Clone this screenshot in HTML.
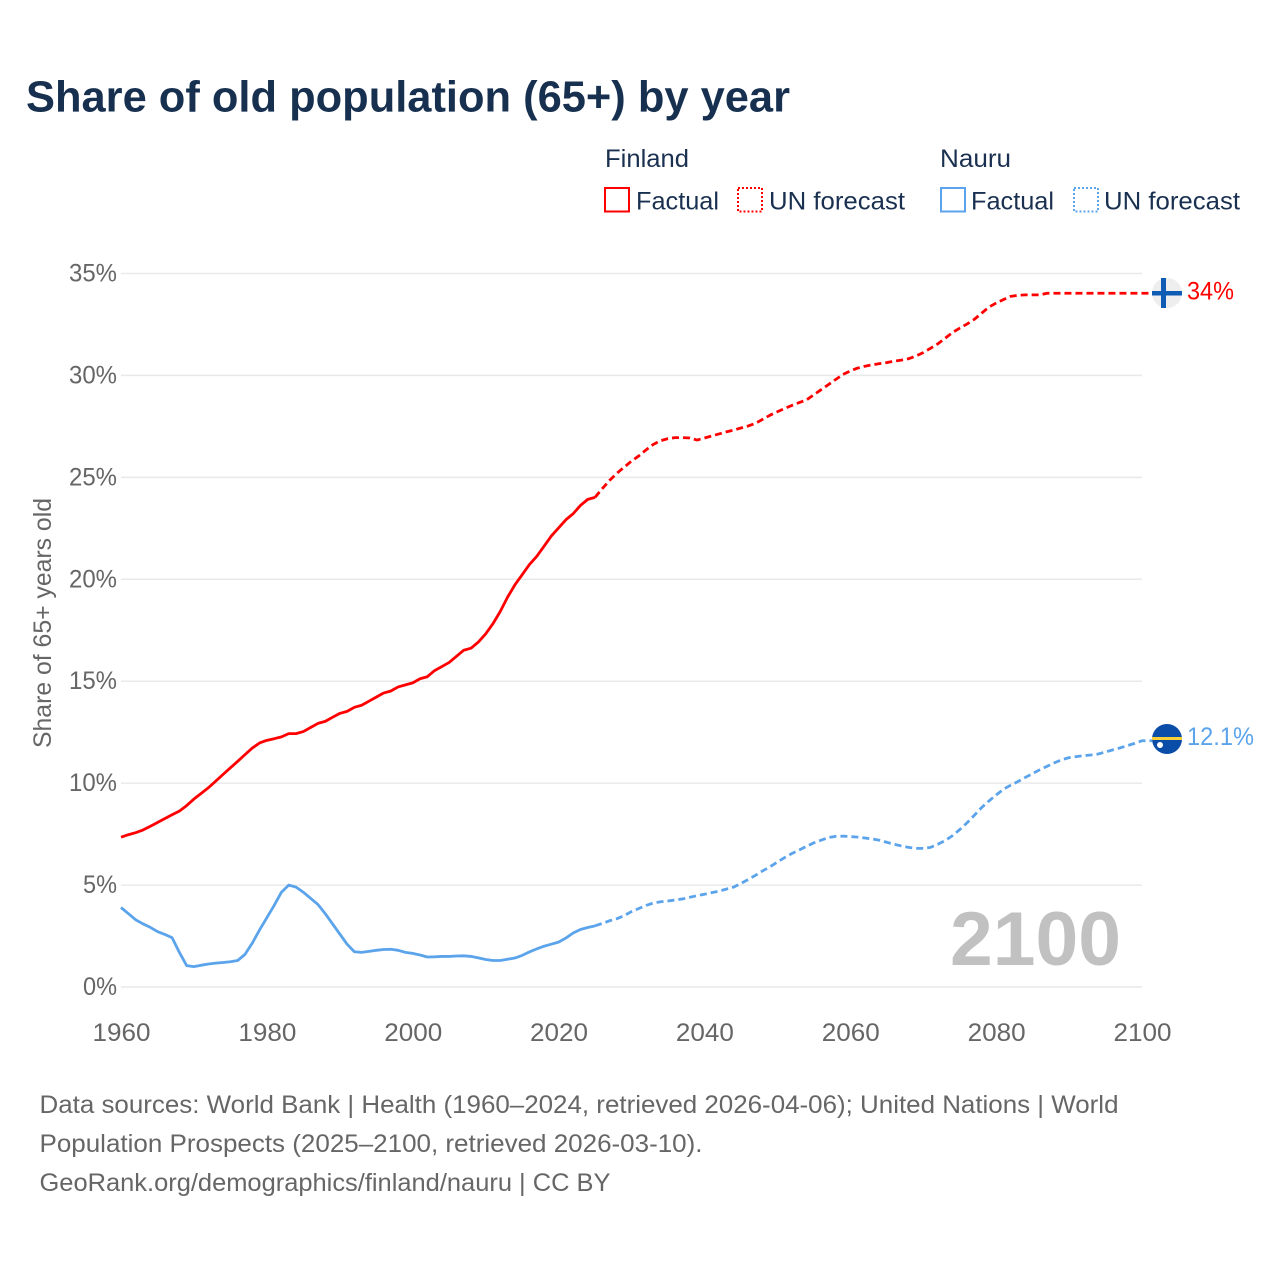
<!DOCTYPE html>
<html lang="en">
<head>
<meta charset="utf-8">
<title>Share of old population (65+) by year</title>
<style>
html,body{margin:0;padding:0;background:#fff;}
svg{display:block;font-family:"Liberation Sans",sans-serif;}
</style>
</head>
<body>
<svg id="chart" width="1280" height="1280" viewBox="0 0 1280 1280" xmlns="http://www.w3.org/2000/svg">
  <rect width="1280" height="1280" fill="#ffffff"/>
  <text x="26" y="111.5" font-size="44" font-weight="700" fill="#17304f" textLength="764" lengthAdjust="spacingAndGlyphs">Share of old population (65+) by year</text>

  <g font-size="25" fill="#1a3050">
    <text x="605" y="167" textLength="84" lengthAdjust="spacingAndGlyphs">Finland</text>
    <text x="940" y="167" textLength="71" lengthAdjust="spacingAndGlyphs">Nauru</text>
    <rect x="605" y="188" width="24" height="23.5" fill="none" stroke="#ff0000" stroke-width="2"/>
    <text x="636" y="209.5" textLength="83" lengthAdjust="spacingAndGlyphs">Factual</text>
    <rect x="738" y="188" width="24" height="23.5" fill="none" stroke="#ff0000" stroke-width="2" stroke-dasharray="2 2"/>
    <text x="769" y="209.5" textLength="136" lengthAdjust="spacingAndGlyphs">UN forecast</text>
    <rect x="941" y="188" width="24" height="23.5" fill="none" stroke="#5ba4ec" stroke-width="2"/>
    <text x="971" y="209.5" textLength="83" lengthAdjust="spacingAndGlyphs">Factual</text>
    <rect x="1074" y="188" width="24" height="23.5" fill="none" stroke="#5ba4ec" stroke-width="2" stroke-dasharray="2 2"/>
    <text x="1104" y="209.5" textLength="136" lengthAdjust="spacingAndGlyphs">UN forecast</text>
  </g>

  <g id="grid"></g>
  <g id="y-labels" font-size="25" fill="#666666"></g>
  <g id="x-labels" font-size="25" fill="#666666"></g>
  <text transform="translate(51,748) rotate(-90)" x="0" y="0" font-size="25" fill="#666666" textLength="250" lengthAdjust="spacingAndGlyphs">Share of 65+ years old</text>
  <text x="950" y="965" font-size="76" font-weight="700" fill="#c1c1c1" textLength="171" lengthAdjust="spacingAndGlyphs">2100</text>

  <g id="series"></g>

  <g>
    <circle cx="1167" cy="293" r="15" fill="#eeeeee"/>
    <rect x="1161" y="278" width="5" height="30" fill="#0f5cb4"/>
    <rect x="1152" y="291" width="30" height="4.5" fill="#0f5cb4"/>
  </g>
  <text x="1187" y="299.5" font-size="25" fill="#ff0000" textLength="47" lengthAdjust="spacingAndGlyphs">34%</text>

  <g>
    <circle cx="1167" cy="739" r="15" fill="#0a4da8"/>
    <rect x="1152" y="737" width="30" height="3" fill="#f7d038"/>
    <circle cx="1160" cy="745" r="3" fill="#ffffff"/>
  </g>
  <text x="1187" y="745" font-size="25" fill="#5ba4ec" textLength="67" lengthAdjust="spacingAndGlyphs">12.1%</text>

  <g font-size="25" fill="#666666">
    <text x="39.5" y="1113" textLength="1079" lengthAdjust="spacingAndGlyphs">Data sources: World Bank | Health (1960–2024, retrieved 2026-04-06); United Nations | World</text>
    <text x="39.5" y="1152" textLength="663" lengthAdjust="spacingAndGlyphs">Population Prospects (2025–2100, retrieved 2026-03-10).</text>
    <text x="39.5" y="1191" textLength="571" lengthAdjust="spacingAndGlyphs">GeoRank.org/demographics/finland/nauru | CC BY</text>
  </g>
</svg>

<script>
const factualYears = [1960,1961,1962,1963,1964,1965,1966,1967,1968,1969,1970,1971,1972,1973,1974,1975,1976,1977,1978,1979,1980,1981,1982,1983,1984,1985,1986,1987,1988,1989,1990,1991,1992,1993,1994,1995,1996,1997,1998,1999,2000,2001,2002,2003,2004,2005,2006,2007,2008,2009,2010,2011,2012,2013,2014,2015,2016,2017,2018,2019,2020,2021,2022,2023,2024,2025];
const forecastYears = [2025,2026,2027,2028,2029,2030,2031,2032,2033,2034,2035,2036,2037,2038,2039,2040,2041,2042,2043,2044,2045,2046,2047,2048,2049,2050,2051,2052,2053,2054,2055,2056,2057,2058,2059,2060,2061,2062,2063,2064,2065,2066,2067,2068,2069,2070,2071,2072,2073,2074,2075,2076,2077,2078,2079,2080,2081,2082,2083,2084,2085,2086,2087,2088,2089,2090,2091,2092,2093,2094,2095,2096,2097,2098,2099,2100];
const finlandFactual = [7.35,7.47,7.57,7.7,7.88,8.07,8.26,8.45,8.63,8.9,9.22,9.5,9.78,10.1,10.43,10.75,11.07,11.4,11.72,11.97,12.1,12.18,12.27,12.43,12.43,12.53,12.73,12.93,13.03,13.23,13.42,13.52,13.72,13.82,14.02,14.22,14.42,14.52,14.72,14.82,14.92,15.12,15.22,15.52,15.72,15.92,16.22,16.52,16.62,16.92,17.32,17.82,18.42,19.12,19.72,20.22,20.72,21.12,21.62,22.12,22.52,22.92,23.22,23.62,23.92,24.02];
const finlandForecast = [24.02,24.45,24.85,25.2,25.5,25.8,26.05,26.35,26.62,26.8,26.9,26.95,26.95,26.93,26.83,26.93,27.03,27.13,27.23,27.32,27.42,27.52,27.65,27.85,28.05,28.22,28.38,28.53,28.67,28.8,29.05,29.3,29.55,29.8,30.05,30.22,30.36,30.45,30.52,30.58,30.63,30.7,30.75,30.82,30.95,31.12,31.33,31.55,31.82,32.1,32.32,32.52,32.75,33.05,33.35,33.55,33.72,33.88,33.93,33.95,33.95,33.95,34.03,34.03,34.03,34.03,34.03,34.03,34.03,34.03,34.03,34.03,34.03,34.03,34.03,34.03];
const nauruFactual = [3.9,3.6,3.3,3.1,2.93,2.72,2.58,2.42,1.7,1.05,1.0,1.07,1.13,1.17,1.2,1.24,1.3,1.6,2.15,2.8,3.4,4.0,4.65,5.0,4.9,4.65,4.35,4.05,3.6,3.1,2.6,2.1,1.73,1.7,1.75,1.8,1.84,1.85,1.8,1.7,1.65,1.57,1.47,1.48,1.5,1.5,1.52,1.53,1.5,1.43,1.35,1.3,1.3,1.36,1.42,1.55,1.72,1.87,2.0,2.1,2.2,2.4,2.65,2.82,2.92,3.0];
const nauruForecast = [3.0,3.12,3.25,3.35,3.5,3.7,3.85,4.0,4.12,4.18,4.22,4.27,4.32,4.4,4.48,4.55,4.63,4.7,4.8,4.9,5.08,5.27,5.48,5.7,5.9,6.13,6.35,6.55,6.72,6.9,7.07,7.2,7.33,7.39,7.4,7.38,7.35,7.31,7.26,7.2,7.1,7.0,6.92,6.85,6.8,6.8,6.85,7.0,7.18,7.42,7.72,8.05,8.42,8.8,9.12,9.42,9.7,9.9,10.08,10.28,10.47,10.66,10.83,11.0,11.15,11.25,11.3,11.35,11.38,11.43,11.53,11.63,11.73,11.84,11.95,12.08];
const xTicks = [1960,1980,2000,2020,2040,2060,2080,2100];
const yTicks = [0,5,10,15,20,25,30,35];

const SVG_NS = 'http://www.w3.org/2000/svg';
const xScale = function (year) { return 121 + (year - 1960) * (1142 - 121) / 140; };
const yScale = function (pct) { return 987 - pct * (987 - 273.5) / 35; };

const gridGroup = document.getElementById('grid');
const yLabelGroup = document.getElementById('y-labels');
const xLabelGroup = document.getElementById('x-labels');
const seriesGroup = document.getElementById('series');

yTicks.forEach(function (tick) {
  const line = document.createElementNS(SVG_NS, 'line');
  
  
  line.setAttribute('x1', 121);
  line.setAttribute('x2', 1142);
  line.setAttribute('y1', yScale(tick));
  line.setAttribute('y2', yScale(tick));
  line.setAttribute('stroke', '#e9e9e9');
  line.setAttribute('stroke-width', 1.5);
  gridGroup.appendChild(line);

  const label = document.createElementNS(SVG_NS, 'text');
  
  
  label.setAttribute('x', 117);
  label.setAttribute('y', yScale(tick) + 8);
  label.setAttribute('text-anchor', 'end');
  label.setAttribute('textLength', tick === 0 || tick === 5 ? 34 : 48);
  label.setAttribute('lengthAdjust', 'spacingAndGlyphs');
  label.textContent = tick + '%';
  yLabelGroup.appendChild(label);
});

xTicks.forEach(function (tick) {
  const label = document.createElementNS(SVG_NS, 'text');
  
  
  label.setAttribute('x', xScale(tick) + 0.5);
  label.setAttribute('y', 1041);
  label.setAttribute('text-anchor', 'middle');
  label.setAttribute('textLength', 58);
  label.setAttribute('lengthAdjust', 'spacingAndGlyphs');
  label.textContent = tick;
  xLabelGroup.appendChild(label);
});

function buildPath(years, values, tailX) {
  let d = years.map(function (year, i) {
    return (i ? 'L' : 'M') + xScale(year).toFixed(2) + ' ' + yScale(values[i]).toFixed(2);
  }).join(' ');
  if (tailX) {
    d += ' L' + tailX + ' ' + yScale(values[values.length - 1]).toFixed(2);
  }
  return d;
}

function drawSeries(name, years, values, color, dashed) {
  const path = document.createElementNS(SVG_NS, 'path');
  
  
  path.setAttribute('d', buildPath(years, values, dashed ? 1152 : 0));
  path.setAttribute('fill', 'none');
  path.setAttribute('stroke', color);
  path.setAttribute('stroke-width', 2.8);
  path.setAttribute('stroke-linejoin', 'round');
  if (dashed) {
    path.setAttribute('stroke-dasharray', '7 4');
  }
  seriesGroup.appendChild(path);
}

drawSeries('finland-factual-line', factualYears, finlandFactual, '#ff0000', false);
drawSeries('finland-forecast-line', forecastYears, finlandForecast, '#ff0000', true);
drawSeries('nauru-factual-line', factualYears, nauruFactual, '#5ba4ec', false);
drawSeries('nauru-forecast-line', forecastYears, nauruForecast, '#5ba4ec', true);
</script>
</body>
</html>
